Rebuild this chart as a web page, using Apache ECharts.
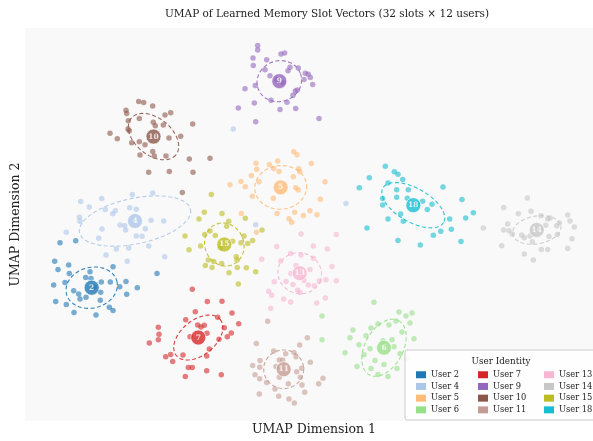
<!DOCTYPE html>
<html><head><meta charset="utf-8">
<script src="https://cdn.jsdelivr.net/npm/echarts@6/dist/echarts.min.js"></script>
<style>html,body{margin:0;padding:0;background:#fff}#c{width:593px;height:441px}</style>
</head><body><div id="c"></div>
<script>
const users = ['User 2','User 4','User 5','User 6','User 7','User 9','User 10','User 11','User 13','User 14','User 15','User 18'];
const centroidLabels = ['2','4','5','6','7','9','10','11','13','14','15','18'];
const colors = ['#1f77b4','#aec7e8','#ffbb78','#98df8a','#d62728','#9467bd','#8c564b','#c49c94','#f7b6d2','#c7c7c7','#bcbd22','#17becf'];

// UMAP embedding of memory slots, [dim1, dim2]
const pts2 = [[60,245],[75.7,243],[54.7,263.7],[68.7,267.3],[113,269.3],[90,274.3],[85.7,280],[91,281],[69.3,276],[65,285],[53.7,287.7],[101.3,284.7],[110.3,284.7],[126,284],[119.7,289.3],[137.3,290.3],[73.7,293.3],[78.7,296.7],[80,301.7],[100.7,295],[100.3,303],[126.7,297],[55.7,304.3],[66.3,307.3],[109.3,310],[113,313.3],[74,315.3],[157,276],[94,290],[86,300],[96,318],[58,272]];
const pts4 = [[132.3,196.3],[152.7,194.7],[80.7,203.3],[101.7,200.3],[89.3,208.7],[105.3,211.3],[115.3,212.7],[112.7,215.7],[129.7,209.7],[136.3,211],[79.3,219.3],[80,223.3],[151,222.3],[163.7,223],[120,227],[124.7,227.7],[125.7,232],[102,231],[145.3,230.7],[66.3,234.3],[98.7,240.3],[136.3,238],[142,238.3],[116.3,251.3],[128.7,250.3],[148.7,248.3],[106,257.3],[127.3,263.7],[164.7,259],[233.3,130],[255.7,226.7],[346,205.3]];
const pts5 = [[293.7,153],[297,156],[256,164.7],[269.3,166],[277.7,162.3],[273.7,170],[279,173],[256.7,170.7],[251.3,177],[241,183],[259,183.3],[245.3,188.3],[230,186.3],[298.7,170.3],[299.7,173.3],[311.3,165],[293.3,178.3],[325,183.3],[295.7,189.3],[298.3,191.7],[252.3,198],[273.3,200],[320.3,201],[277,215.3],[294.7,214],[310,212.7],[303.3,217.3],[317,216.7],[289,220.7],[291.7,224.3],[241.3,215.3],[256.5,234.3]];
const pts6 = [[322,319],[322,343],[374,305],[399,315],[406,319],[412,316],[396,324],[410,326],[389,328],[378,327],[371,331],[402,335],[414,342],[353,333],[350,341],[366,339],[359,348],[392,343],[383,344],[370,352],[364,358],[400,357],[407,362],[375,364],[384,368],[371,372],[357,370],[397,372],[388,380],[378,378],[345,356],[394,350]];
const pts7 = [[192.3,292],[207.3,304.3],[222,304],[195.3,314.7],[232,316],[185.7,322.7],[197.7,328],[201,330],[204.3,328.3],[217.7,320.3],[238.7,326.7],[224.3,330.7],[207,336.3],[158.3,330.3],[159,337.3],[158.3,343],[149.3,346.3],[219,342.3],[227.3,340],[231.3,336],[209.3,352.3],[183,358.3],[206.7,359.3],[165.7,360],[170.7,357.7],[172.7,365],[188.3,371],[192.3,371],[206.7,374.3],[185.3,380],[221.3,378.3],[190,340]];
const pts9 = [[257.7,45.7],[257.7,50.3],[253,58.3],[253.3,66],[266.7,60],[265,70.3],[281,54.3],[284.7,53.3],[290,67.7],[288,71.3],[298.3,68.3],[305.3,73.7],[308.3,74.7],[310.3,78],[304,80],[312.7,85],[270,76.3],[255.3,86],[245,89.3],[297.3,90.7],[293,96],[287,103],[271,101],[254.3,103.7],[280,110.3],[295.7,109.3],[238.3,108.7],[255.7,122.7],[319,119.3],[295.3,91.7],[276.7,80],[283,83.3]];
const pts10 = [[138.7,102.3],[143.7,103.3],[152.7,106.7],[126,111],[126.7,114.3],[128.3,121.7],[139.3,119.3],[165,116],[170.7,113.7],[153.3,123.3],[155.3,126.7],[163.3,126],[192.7,125],[129.3,131.7],[110,134.3],[117.3,140],[131.7,144],[139.3,143],[169,139],[180.7,137.3],[152.7,152.7],[154.3,157.3],[166,157.3],[140,156.3],[189.3,160.3],[210,159.7],[148.7,173.7],[169.3,173],[193,173.7],[182.3,194.3],[128,130],[145,146]];
const pts11 = [[267.7,324.3],[307.3,341],[299.7,348.3],[256.3,346.7],[273.7,354.3],[285.7,357],[294,355.7],[296,360],[279.3,363.3],[282.7,363.3],[260,364],[252.7,369],[259.7,370.7],[276,370],[310.3,365.7],[301.7,371.7],[296.7,375.3],[255,378.3],[259.7,382.3],[266.7,386],[279.3,380.7],[300.3,380.7],[302,388.7],[323,381.7],[318.7,387.3],[275,392.7],[288.3,387.3],[259.3,397.7],[278.7,400],[289,402.7],[304.7,396],[294.3,406.7]];
const pts13 = [[301,236],[336.3,236.7],[276.7,248.7],[313.3,248.3],[327.3,251.3],[290.7,255.7],[301,257.3],[313.3,260.7],[261.7,261.7],[280.7,263.3],[332,269],[291,276],[286,284],[274.3,284.3],[308.3,287.7],[314.3,288.3],[319.3,283.7],[326,282.3],[336.3,283.3],[297.7,292.7],[300,295.3],[268.7,294],[271.7,298],[283.7,301.7],[290.7,304.7],[316.7,305.7],[325.3,300.7],[270.7,311],[296,268],[304,283],[293,287],[310,272]];
const pts14 = [[527.3,199.7],[503.7,209.3],[518.3,215.7],[531,213],[541,217.7],[547.7,221],[550,220],[559.3,225],[567.7,217],[570,223],[507.7,226],[483.3,230],[503.7,232],[509,232.7],[512.3,236],[545.7,227.3],[556.7,227.7],[574.3,229],[557.3,236.7],[549,238.7],[521.7,237],[524.3,240],[532.3,244],[572,241],[501.7,248],[541.3,251.7],[547.7,251.7],[567.7,250.7],[524.3,256.3],[533.3,262.3],[541,231],[530,238]];
const pts15 = [[211.3,196.3],[204.3,214],[222,215.3],[199,221],[228.7,223.3],[245.3,220.3],[185,238],[210,233],[215.3,237.7],[204.7,236.7],[226.7,228.3],[232.7,243.3],[241,245],[247.7,245.7],[252.7,242.7],[262,232],[189,252],[200.7,248.3],[208.3,262.3],[213.7,264],[205.3,268],[212,270],[221.7,266],[236.3,259],[237,262.3],[237.3,270],[246.3,270.3],[255.7,274.3],[229,275.3],[238.3,286.7],[244,238],[220,250]];
const pts18 = [[385.3,167.7],[394.3,173.3],[398,175.7],[402.7,181],[369.3,179.3],[359.3,189.3],[388,184.7],[396.7,191.3],[408.3,191.3],[443,188.7],[382.7,200.3],[396.7,199],[407.3,200],[422.7,203],[432,206],[427.3,211.3],[382.7,206.7],[400.7,216],[403.3,223.3],[388,221],[367,230],[449.7,221],[465.7,220],[462,201.3],[440.7,233.3],[451.3,231.3],[433.3,237.3],[398,242.7],[420.3,247.3],[461,243.7],[473.3,214.7],[417,206]];
const allPts = [pts2,pts4,pts5,pts6,pts7,pts9,pts10,pts11,pts13,pts14,pts15,pts18];

// cluster centroids
const centroidX = [91.7,135,280.7,384,198.3,279.3,153.5,283.7,299.7,536.7,224.3,413.3];
const centroidY = [290.3,223,189,351,340.7,81.7,137.7,372.7,275.7,232,246.7,207];
// covariance ellipse: semi-axes (data units) and orientation (deg)
const ellA = [26,56.7,26,31,28.5,22.5,29,20,22,24.5,22,35];
const ellB = [20.5,23,22,19,17.5,20.5,18.5,19.5,20.5,14,19.5,17];
const ellAngle = [-15,-12,-5,-62,-40,-20,40,0,20,-10,70,30];

const chart = echarts.init(document.getElementById('c'), null, {renderer:'canvas'});
const FONT = '"DejaVu Serif", serif';
const series = [];
allPts.forEach((p, i) => {
  series.push({
    type:'scatter', name: users[i], data: p, symbolSize: 5.5, z: 2,
    itemStyle:{color: colors[i], opacity: 0.6}, silent:true
  });
});
series.push({
  type:'custom', name:'ellipses', z: 3, silent:true,
  data: centroidX.map((x, i) => [i, x, centroidY[i]]),
  encode:{x:1, y:2},
  renderItem: function(params, api){
    const i = api.value(0);
    const cx = centroidX[i], cy = centroidY[i];
    const th = ellAngle[i] * Math.PI / 180;
    const pts = [];
    for (let k = 0; k < 90; k++) {
      const t = k / 90 * Math.PI * 2;
      const dx = ellA[i]*Math.cos(t)*Math.cos(th) - ellB[i]*Math.sin(t)*Math.sin(th);
      const dy = ellA[i]*Math.cos(t)*Math.sin(th) + ellB[i]*Math.sin(t)*Math.cos(th);
      pts.push(api.coord([cx + dx, cy + dy]));
    }
    return {type:'polygon', shape:{points: pts},
      style:{fill:null, stroke: colors[i], lineWidth: 1.1, lineDash:[4,2.5], opacity: 0.9}};
  }
});
series.push({
  type:'scatter', name:'centroids', z: 5, symbolSize: 15, silent:true,
  data: centroidX.map((x, i) => ({value:[x, centroidY[i]], itemStyle:{color: colors[i]},
    label:{show:true, formatter: centroidLabels[i]}})),
  itemStyle:{borderColor:'#ffffff', borderWidth:0.8},
  label:{position:'inside', color:'#fff', fontFamily: FONT, fontWeight:'bold', fontSize: 7.5}
});

const legendCommon = {
  orient:'vertical', icon:'rect', itemWidth:10, itemHeight:7, itemGap:2.2,
  selectedMode:false, z: 100,
  itemStyle:{opacity:1},
  textStyle:{fontFamily: FONT, fontSize: 8.3, color:'#222', lineHeight: 9.5}
};

chart.setOption({
  animation:false,
  backgroundColor:'#ffffff',
  title:{text:'UMAP of Learned Memory Slot Vectors (32 slots \u00d7 12 users)', left: 322, top: 4, textAlign:'center',
    textStyle:{fontFamily: FONT, fontSize: 10.5, fontWeight:'normal', color:'#222'}},
  grid:{left:25, right:0, top:28, bottom:16, show:true, backgroundColor:'#f9f9f9', borderWidth:0},
  xAxis:{type:'value', min:25, max:593, name:'UMAP Dimension 1', nameLocation:'middle', nameGap:2,
    nameTextStyle:{fontFamily: FONT, fontSize: 12.5, color:'#222', verticalAlign:'top', padding:[0,0,0,10]},
    axisLine:{show:false}, axisTick:{show:false}, axisLabel:{show:false}, splitLine:{show:false}},
  yAxis:{type:'value', inverse:true, min:28, max:425, name:'UMAP Dimension 2', nameLocation:'middle', nameGap:3,
    nameTextStyle:{fontFamily: FONT, fontSize: 12.5, color:'#222'},
    axisLine:{show:false}, axisTick:{show:false}, axisLabel:{show:false}, splitLine:{show:false}},
  legend:[
    Object.assign({data:['User 2','User 4','User 5','User 6'], left:411, top:365}, legendCommon),
    Object.assign({data:['User 7','User 9','User 10','User 11'], left:473, top:365}, legendCommon),
    Object.assign({data:['User 13','User 14','User 15','User 18'], left:539, top:365}, legendCommon)
  ],
  graphic:[
    {type:'rect', z: 50, x:405, y:350, shape:{width:192, height:70, r:2},
      style:{fill:'rgba(255,255,255,0.85)', stroke:'#cccccc', lineWidth:1}},
    {type:'text', z: 51, x:501, y:361.5, style:{text:'User Identity', textAlign:'center', textVerticalAlign:'middle',
      font:'8.8px "DejaVu Serif", serif', fill:'#222'}}
  ],
  series: series
});
</script></body></html>
